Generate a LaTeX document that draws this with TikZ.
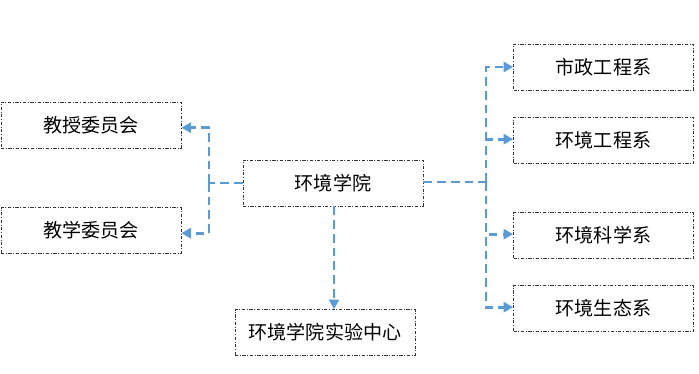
\documentclass[tikz,border=0pt]{standalone}
\usepackage{fontspec}
\newfontfamily\cjk{Noto Sans CJK SC}
\usetikzlibrary{arrows.meta}
\definecolor{conn}{HTML}{5B9BD5}
\begin{document}
\begin{tikzpicture}[x=0.75pt,y=-0.75pt,
 box/.style={draw=black!80, line width=0.7pt, dash pattern=on 2.5pt off 1.2pt on 0.7pt off 1.2pt,
   minimum width=135pt, minimum height=34.5pt, inner sep=0pt,
   font=\cjk\fontsize{14.3}{16}\selectfont, text=black},
 link/.style={draw=conn, line width=2.2pt, dash pattern=on 6.5pt off 3.8pt},
 tip/.style={-{Triangle[length=7pt,width=7.5pt]}}
]
\useasboundingbox (0,0) rectangle (699,374);
\node[box] (prof) at (91,125) {教授委员会};
\node[box] (teach) at (91,230.5) {教学委员会};
\node[box] (school) at (333,183) {环境学院};
\node[box] (lab) at (325,332.5) {环境学院实验中心};
\node[box] (sz) at (603.5,67) {市政工程系};
\node[box] (hg) at (603.5,140.5) {环境工程系};
\node[box] (hk) at (603.5,235.5) {环境科学系};
\node[box] (hs) at (603.5,308.5) {环境生态系};
\coordinate (lj) at (209,183);
\coordinate (rj) at (486,182);
\draw[link] (school.west) -- (lj);
\draw[link,tip] (lj) |- ([yshift=-2pt]prof.east);
\draw[link,tip] (lj) |- ([yshift=-2pt]teach.east);
\draw[link] ([yshift=0.75pt]school.east) -- (rj);
\draw[link,tip] (rj) |- (sz.west);
\draw[link,tip] (rj) |- ([yshift=1pt]hg.west);
\draw[link,tip] (rj) |- ([yshift=1pt]hk.west);
\draw[link,tip] (rj) |- ([yshift=1pt]hs.west);
\draw[link,tip] ([xshift=0.75pt]school.south) -- ([xshift=0.75pt]school.south |- lab.north);
\end{tikzpicture}
\end{document}
